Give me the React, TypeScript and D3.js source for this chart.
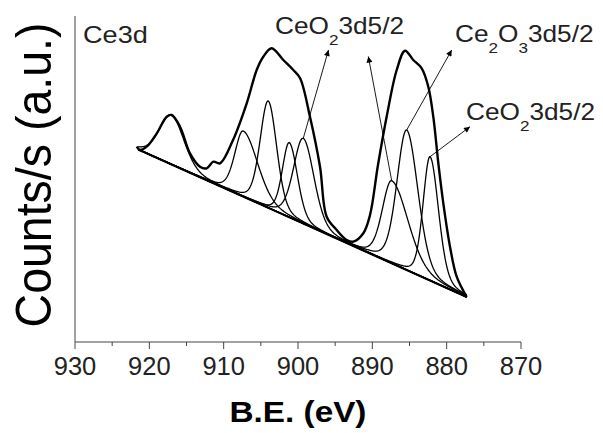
import React from 'react';
import * as d3 from 'd3';

const W = 603;
const H = 433;

// binding energy axis
const xTicks = [930, 920, 910, 900, 890, 880, 870];
const xMinor = [925, 915, 905, 895, 885, 875];

// measured Ce3d spectrum (eV, counts a.u.)
const envE = [921.7, 921.26, 920.35, 919.0, 917.66, 917.0, 915.87, 914.53, 913.18, 912.28, 911.39, 910.49,
  908.74, 906.9, 905.56, 904.67, 903.54, 901.98, 900.63, 899.73, 898.39, 897.04, 896.14, 894.79, 893.45,
  892.56, 891.21, 890.31, 889.24, 888.03, 886.72, 885.6, 884.49, 883.36, 882.47, 881.8, 881.12, 880.45,
  879.55, 878.65, 877.3];
const envC = [195.3, 192, 195.3, 208.7, 225.3, 227, 215.3, 188.7, 175.3, 173.7, 180.3, 178.7,
  202, 238.7, 272, 285.3, 293.7, 282, 272, 264, 225.3, 175.3, 125.3, 112, 102,
  100.3, 108.7, 127, 177, 227, 272, 291.3, 282, 273.7, 255.3, 225.3, 178.7, 138.7,
  95.3, 65.3, 45];

// linear background
const baseE = [921.5, 877.3];
const baseC = [192.5, 45];

// fitted components: centre, height above background, half widths (high-BE side, low-BE side)
const peakE = [917.0, 907.36, 904.0, 901.17, 899.29, 887.39, 885.38, 882.24];
const peakH = [49.6, 65.7, 106.9, 74.7, 85.3, 82.6, 140, 123.8];
const peakHL = [1.95, 1.35, 1.3, 1.1, 1.55, 1.5, 1.55, 1.1];
const peakHR = [1.95, 2.3, 1.35, 1.3, 1.7, 2.6, 1.8, 1.35];

// annotations: text parts ([text, subscript?]) and arrows (component -> head)
const labelParts: [string, boolean][][] = [
  [["CeO", false], ["2", true], ["3d5/2", false]],
  [["Ce", false], ["2", true], ["O", false], ["3", true], ["3d5/2", false]],
  [["CeO", false], ["2", true], ["3d5/2", false]],
];
const arrowPeak = [4, 5, 6, 7];
const arrowHeadE = [895.9, 890.54, 879.32, 876.86];
const arrowHeadC = [292, 285.5, 292, 215.3];

// layout
const M = { left: 75, right: 521, top: 16, bottom: 342 };
const labelPos = [[275, 33.5], [455, 41.7], [466, 120]];
const FONT = "'Liberation Sans', Arial, sans-serif";
const ETA = 0.25;

// asymmetric pseudo-Voigt
function pv(e: number, c: number, h: number, hl: number, hr: number) {
  const hw = e > c ? hl : hr;
  const t = ((e - c) / hw) ** 2;
  return h * (ETA / (1 + t) + (1 - ETA) * Math.exp(-Math.LN2 * t));
}

export default function App() {
  const x = d3.scaleLinear().domain([930, 870]).range([M.left, M.right]);
  const y = d3.scaleLinear().domain([0, 326]).range([M.bottom, M.top]);
  const base = d3.scaleLinear().domain(baseE).range(baseC);

  const env = envE.map((e, i) => [e, envC[i]] as [number, number]);
  const envLine = d3.line<[number, number]>()
    .x(d => x(d[0]))
    .y(d => y(d[1]))
    .curve(d3.curveCatmullRom)(env) ?? '';

  const grid = d3.range(baseE[1], baseE[0] + 0.001, 0.1);
  const comps = peakE.map((c, i) =>
    d3.line<number>()
      .x(e => x(e))
      .y(e => y(base(e) + pv(e, c, peakH[i], peakHL[i], peakHR[i])))(grid) ?? '');

  return (
    <svg width={W} height={H} style={{ position: 'absolute', left: 0, top: 0, background: '#fff' }}
      fontFamily={FONT}>
      <defs>
        <marker id="ah" viewBox="0 0 10 10" refX="10" refY="5" markerWidth="9" markerHeight="6"
          markerUnits="userSpaceOnUse" orient="auto">
          <path d="M0,0L10,5L0,10z" fill="#000" />
        </marker>
      </defs>

      {/* axes */}
      <g stroke="#444" strokeWidth={1}>
        <line x1={M.left} x2={M.left} y1={M.top} y2={M.bottom} />
        <line x1={M.left} x2={M.right} y1={M.bottom} y2={M.bottom} />
        {xTicks.map(t => <line key={t} x1={x(t)} x2={x(t)} y1={M.bottom} y2={M.bottom + 7} />)}
        {xMinor.map(t => <line key={t} x1={x(t)} x2={x(t)} y1={M.bottom} y2={M.bottom + 4} />)}
      </g>
      {xTicks.map(t => (
        <text key={t} x={x(t)} y={375} textAnchor="middle" fontSize={25.5} fill="#222">{t}</text>
      ))}
      <text transform={`translate(298,422) scale(1.11,1)`} textAnchor="middle" fontSize={30}
        fontWeight="bold">B.E. (eV)</text>
      <text transform={`translate(51,175) rotate(-90) scale(0.93,1)`} textAnchor="middle"
        fontSize={50}>Counts/s (a.u.)</text>

      {/* background and components */}
      <line x1={x(baseE[0])} y1={y(baseC[0])} x2={x(baseE[1])} y2={y(baseC[1])}
        stroke="#000" strokeWidth={2} />
      <g fill="none" stroke="#000" strokeWidth={1.3}>
        {comps.map((d, i) => <path key={i} d={d} />)}
      </g>
      <path d={envLine} fill="none" stroke="#000" strokeWidth={2.4} />

      {/* arrows */}
      <g stroke="#000" strokeWidth={0.9}>
        {arrowPeak.map((p, i) => (
          <line key={i} x1={x(peakE[p])} y1={y(base(peakE[p]) + peakH[p])}
            x2={x(arrowHeadE[i])} y2={y(arrowHeadC[i])} markerEnd="url(#ah)" />
        ))}
      </g>

      {/* labels */}
      <text transform="translate(83,42.5) scale(1.13,1)" fontSize={24} fill="#222">Ce3d</text>
      {labelParts.map((parts, i) => (
        <text key={i} transform={`translate(${labelPos[i][0]},${labelPos[i][1]}) scale(1.14,1)`}
          fontSize={23} fill="#222">
          {parts.map(([s, sub], j) => (
            <tspan key={j} fontSize={sub ? 15 : 23} dy={sub ? 11 : (j > 0 && parts[j - 1][1] ? -11 : 0)}>{s}</tspan>
          ))}
        </text>
      ))}
    </svg>
  );
}
